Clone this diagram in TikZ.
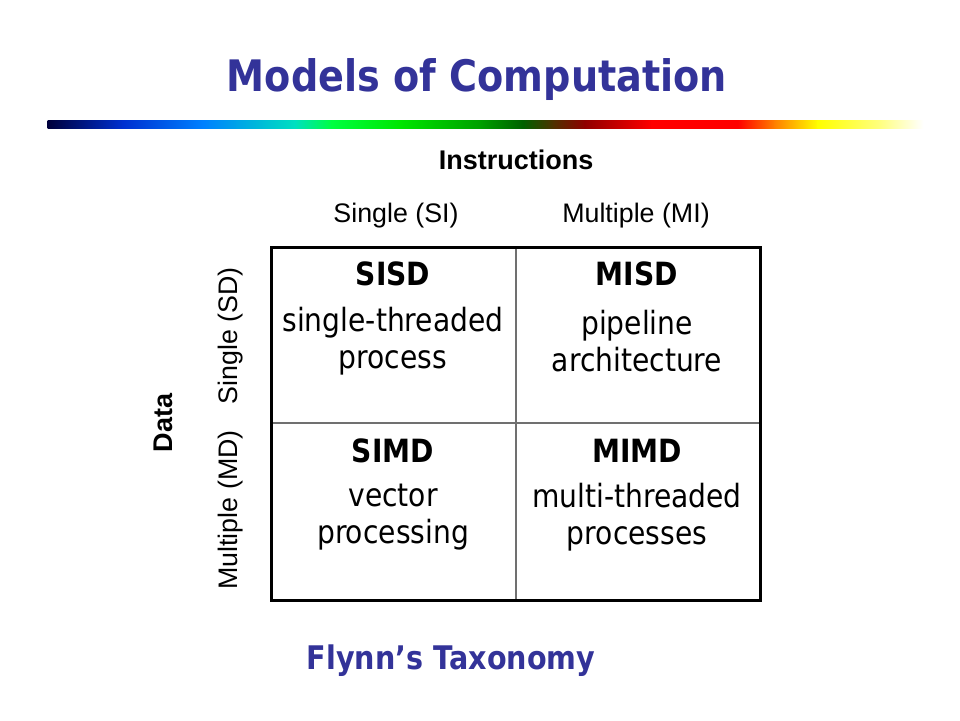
\documentclass[tikz,border=0pt]{standalone}
\usepackage{fontspec}
\setmainfont{DejaVu Sans}
\newfontfamily\tah{DejaVu Sans}[FakeStretch=0.88]
\newfontfamily\ari{Liberation Sans}
\definecolor{titleblue}{HTML}{333399}
\definecolor{gridgray}{HTML}{707070}
\begin{document}
\begin{tikzpicture}[x=1pt,y=-1pt,
  title/.style={font=\tah\bfseries\fontsize{43.4}{48}\selectfont, text=titleblue, inner sep=0pt},
  foot/.style={font=\tah\bfseries\fontsize{32.5}{36}\selectfont, text=titleblue, inner sep=0pt},
  head/.style={font=\tah\bfseries\fontsize{32}{36}\selectfont, inner sep=0pt},
  body/.style={font=\tah\fontsize{32}{37}\selectfont, align=center, inner sep=0pt},
  lab/.style={font=\ari\fontsize{26.8}{30}\selectfont, inner sep=0pt},
  blab/.style={font=\ari\bfseries\fontsize{27}{30}\selectfont, inner sep=0pt},
  outer/.style={draw=black, line width=3pt},
  inner/.style={draw=gridgray, line width=2pt}]
\useasboundingbox (0,0) rectangle (960,720);
\fill[white] (0,0) rectangle (960,720);
% gradient bar
\foreach \xa/\xb/\ca/\cb in {
  48/123/{rgb,255:red,0;green,0;blue,60}/{rgb,255:red,0;green,48;blue,208},
  123/203/{rgb,255:red,0;green,48;blue,208}/{rgb,255:red,0;green,128;blue,255},
  203/295/{rgb,255:red,0;green,128;blue,255}/{rgb,255:red,0;green,224;blue,192},
  295/332/{rgb,255:red,0;green,224;blue,192}/{rgb,255:red,0;green,255;blue,64},
  332/400/{rgb,255:red,0;green,255;blue,64}/{rgb,255:red,0;green,230;blue,0},
  400/480/{rgb,255:red,0;green,230;blue,0}/{rgb,255:red,0;green,160;blue,0},
  480/523/{rgb,255:red,0;green,160;blue,0}/{rgb,255:red,0;green,96;blue,0},
  523/554/{rgb,255:red,0;green,96;blue,0}/{rgb,255:red,80;green,48;blue,0},
  554/585/{rgb,255:red,80;green,48;blue,0}/{rgb,255:red,144;green,0;blue,0},
  585/652/{rgb,255:red,144;green,0;blue,0}/{rgb,255:red,255;green,0;blue,0},
  652/738/{rgb,255:red,255;green,0;blue,0}/{rgb,255:red,255;green,0;blue,0},
  738/775/{rgb,255:red,255;green,0;blue,0}/{rgb,255:red,255;green,128;blue,0},
  775/818/{rgb,255:red,255;green,128;blue,0}/{rgb,255:red,255;green,255;blue,0},
  818/880/{rgb,255:red,255;green,255;blue,0}/{rgb,255:red,255;green,255;blue,128},
  880/923/{rgb,255:red,255;green,255;blue,128}/{rgb,255:red,255;green,255;blue,255}}
  {\shade[left color=\ca, right color=\cb, shading angle=90] (\xa-0.3,120) rectangle (\xb+0.3,128);}
% title
\node[title] (t) at (477,80) {Models of Computation};
% headers
\node[blab] (ins) at (516,160) {Instructions};
\node[lab] (si) at (396,216) {Single (SI)};
\node[lab] (mi) at (636,216) {Multiple (MI)};
\node[blab, rotate=90] (data) at (163,423) {Data};
\node[lab, rotate=90] (sd) at (231,336) {Single (SD)};
\node[lab, rotate=90] (md) at (231,510) {Multiple (MD)};
% grid
\coordinate (tl) at (271,247);
\coordinate (br) at (760,600);
\draw[inner] (516,247) -- (516,600);
\draw[inner] (271,423) -- (760,423);
\draw[outer] (tl) rectangle (br);
% cells
\node[head] (sisd) at (393,274) {SISD};
\node[body] (sisdt) at (393,341) {single-threaded\\process};
\node[head] (misd) at (637,274) {MISD};
\node[body] (misdt) at (637,341) {pipeline\\architecture};
\node[head] (simd) at (393,451) {SIMD};
\node[body] (simdt) at (393,517) {vector\\processing};
\node[head] (mimd) at (637,451) {MIMD};
\node[body] (mimdt) at (637,517) {multi-threaded\\processes};
% footer
\node[foot] (fl) at (451,661) {Flynn’s Taxonomy};
\end{tikzpicture}
\end{document}
